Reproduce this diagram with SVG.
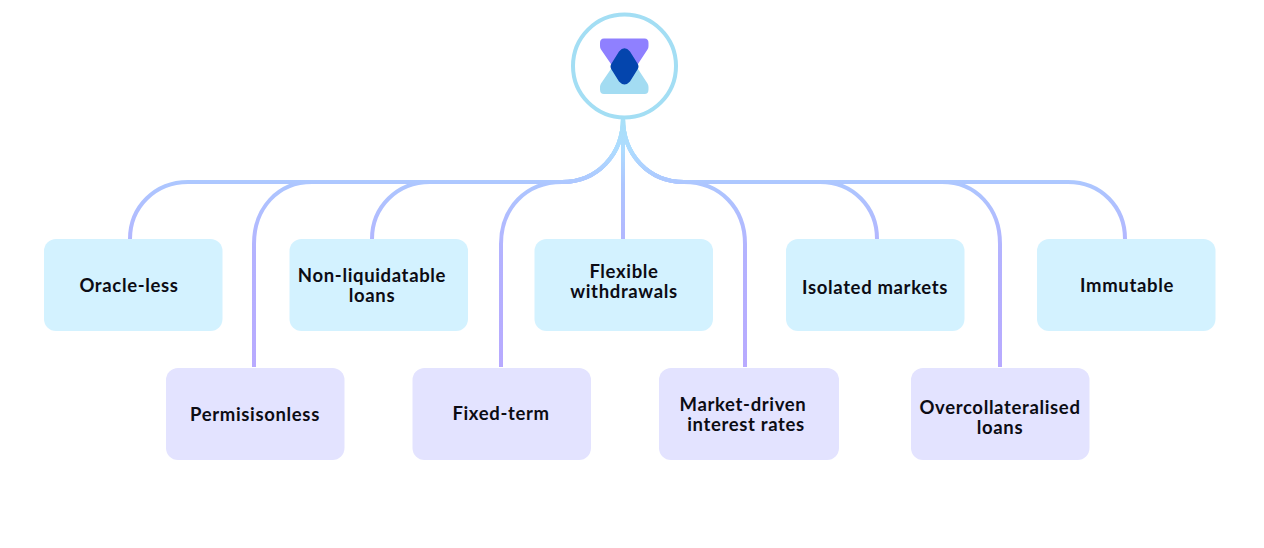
<svg xmlns="http://www.w3.org/2000/svg" width="1264" height="548" viewBox="0 0 1264 548">
<style>
.c{fill:none;stroke:url(#g);stroke-width:4}
.a{fill:#d3f2ff}.b{fill:#e3e3ff}
text{font-family:"Lato","Liberation Sans",sans-serif;font-weight:700;font-size:18.500px;fill:#0c0c14;text-anchor:middle;letter-spacing:.65px}
</style>
<defs>
<linearGradient id="g" gradientUnits="userSpaceOnUse" x1="0" y1="120" x2="0" y2="367">
<stop offset="0" stop-color="#a8e0f8"/><stop offset=".12" stop-color="#aedcff"/><stop offset=".26" stop-color="#adc6ff"/><stop offset=".55" stop-color="#b4b2ff"/><stop offset="1" stop-color="#b8aaff"/>
</linearGradient>
</defs>
<rect width="1264" height="548" fill="#fff"/>
<g id="connectors">
<path class="c" d="M623 118V239"/>
<path class="c" d="M623 118C623 155 597 182 562 182H188C155 182 130 207 130 239"/>
<path class="c" d="M623 118C623 155 597 182 562 182H312C278 182 254 208 254 244V367"/>
<path class="c" d="M623 118C623 155 597 182 562 182H430C397 182 372 207 372 239"/>
<path class="c" d="M623 118C623 155 597 182 562 182C526 182 501 208 501 244V367"/>
<path class="c" d="M623 118C623 155 649 182 684 182C720 182 745 208 745 244V367"/>
<path class="c" d="M623 118C623 155 649 182 684 182H820C853 182 877 207 877 239"/>
<path class="c" d="M623 118C623 155 649 182 684 182H942C976 182 1000 208 1000 244V367"/>
<path class="c" d="M623 118C623 155 649 182 684 182H1068C1101 182 1125 207 1125 239"/>
</g>
<g id="hub">
<circle cx="624.500" cy="66" r="51.500" fill="#fff" stroke="#a3def4" stroke-width="4"/>
<path d="M604 38.500H644.500Q648.500 38.500 648.500 43V46Q648.500 48 647.500 49.500L636 67H613L601 49.500Q600 48 600 46V43Q600 38.500 604 38.500Z" fill="#8f80ff"/>
<path d="M604 94H644.500Q648.500 94 648.500 89.500V87Q648.500 85 647.500 83.500L636 66H613L601 83.500Q600 85 600 87V89.500Q600 94 604 94Z" fill="#a3dcf2"/>
<path d="M619 51.500Q624.500 45 630 51.500L637.500 63.500Q639.500 66.500 637.500 69.500L630 81.500Q624.500 87.500 619 81.500L611.500 69.500Q609.500 66.500 611.500 63.500Z" fill="#0445ad"/>
</g>
<g id="oracle-less"><rect class="a" x="44" y="239" width="178.500" height="92" rx="12"/><text x="129" y="292">Oracle-less</text></g>
<g id="permissionless"><rect class="b" x="166" y="368" width="178.500" height="92" rx="12"/><text x="255" y="421">Permisisonless</text></g>
<g id="non-liquidatable"><rect class="a" x="289.500" y="239" width="178.500" height="92" rx="12"/><text x="372" y="282">Non-liquidatable</text><text x="372" y="302">loans</text></g>
<g id="fixed-term"><rect class="b" x="412.500" y="368" width="178.500" height="92" rx="12"/><text x="501" y="420">Fixed-term</text></g>
<g id="flexible"><rect class="a" x="534.500" y="239" width="178.500" height="92" rx="12"/><text x="624" y="278">Flexible</text><text x="624" y="298">withdrawals</text></g>
<g id="market-driven"><rect class="b" x="659" y="368" width="180" height="92" rx="12"/><text x="743" y="411">Market-driven</text><text x="746" y="431">interest rates</text></g>
<g id="isolated"><rect class="a" x="786" y="239" width="178.500" height="92" rx="12"/><text x="875" y="294">Isolated markets</text></g>
<g id="overcollateralised"><rect class="b" x="911" y="368" width="178.500" height="92" rx="12"/><text x="1000" y="414">Overcollateralised</text><text x="1000" y="434">loans</text></g>
<g id="immutable"><rect class="a" x="1037" y="239" width="178.500" height="92" rx="12"/><text x="1127" y="292">Immutable</text></g>
</svg>
